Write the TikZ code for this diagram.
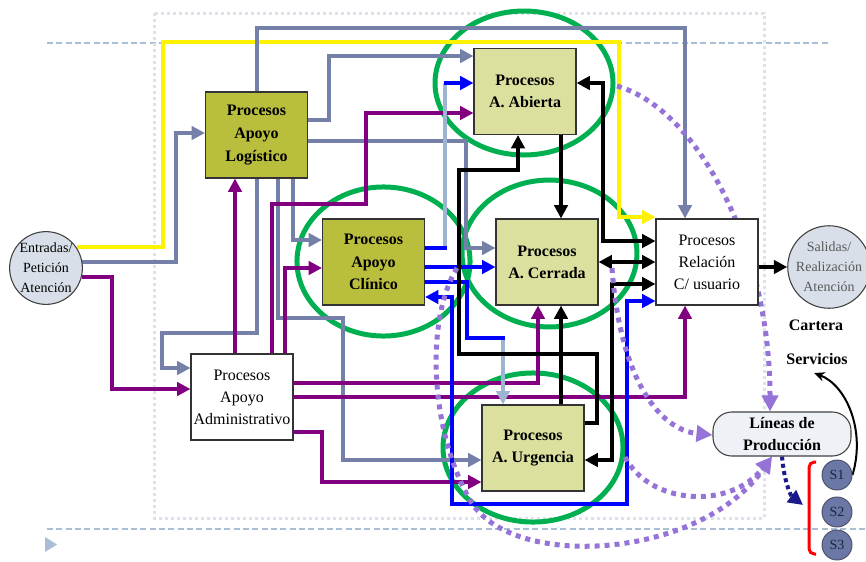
\documentclass[tikz,border=0pt]{standalone}
\usepackage{fontspec}
\setmainfont{Liberation Serif}
\usetikzlibrary{arrows.meta,backgrounds}

\definecolor{olivebox}{HTML}{B9BE3C}
\definecolor{palebox}{HTML}{DCE09E}
\definecolor{slate}{HTML}{7480A8}
\definecolor{plum}{HTML}{800080}
\definecolor{steel}{HTML}{9DB5D2}
\definecolor{ringgreen}{HTML}{00B050}
\definecolor{lavender}{HTML}{9673D6}
\definecolor{bubble}{HTML}{D8DFE8}
\definecolor{pillfill}{HTML}{EEF2F7}
\definecolor{svcfill}{HTML}{6B77A5}
\definecolor{svctext}{HTML}{1E2240}
\definecolor{navyline}{HTML}{1A1A8C}
\definecolor{framegrey}{HTML}{DCE3EB}
\definecolor{guide}{HTML}{A9BFD8}

\tikzset{
  proc/.style={draw=black!80, line width=0.8pt, minimum width=76.5pt,
    minimum height=64.5pt, align=center, inner sep=1pt,
    font=\fontsize{12}{16.5}\selectfont},
  procdark/.style={proc, fill=olivebox, font=\fontsize{12}{17}\selectfont\bfseries},
  proclight/.style={proc, fill=palebox, font=\fontsize{12}{16.5}\selectfont\bfseries},
  procwhite/.style={proc, fill=white},
  port/.style={circle, draw=black!75, line width=0.8pt, fill=bubble,
    minimum size=54pt, inner sep=0pt, align=center,
    font=\fontsize{10.5}{15}\selectfont},
  pillbox/.style={rectangle, rounded corners=14pt, draw=black!75, line width=0.8pt,
    fill=pillfill, minimum width=103.5pt, minimum height=33pt, align=center,
    font=\fontsize{12}{16.5}\selectfont\bfseries},
  svcball/.style={circle, draw=svctext!80, line width=0.7pt, fill=svcfill,
    minimum size=22.5pt, inner sep=0pt, text=svctext,
    font=\fontsize{10.5}{12}\selectfont},
  tag/.style={font=\fontsize{12}{14}\selectfont\bfseries, inner sep=1pt},
  wire/.style={line width=3pt, -{Triangle[length=10pt,width=10pt]}},
  wireboth/.style={line width=3pt, {Triangle[length=10pt,width=10pt]}-{Triangle[length=10pt,width=10pt]}},
  bare/.style={line width=3pt},
  flow/.style={lavender, line width=3.75pt, dash pattern=on 3.75pt off 3.75pt,
    -{Triangle[length=12pt,width=12pt]}},
  ring/.style={ringgreen, line width=3.75pt}
}

\begin{document}
\begin{tikzpicture}[x=0.75pt, y=-0.75pt]
\useasboundingbox (0,0) rectangle (866,561);

% process boxes
\node[procdark]  (log) at (256.5,135) {Procesos\\Apoyo\\Logístico};
\node[proclight] (ab)  at (525,91.5)  {Procesos\\A. Abierta};
\node[procdark]  (cl)  at (373.5,262) {Procesos\\Apoyo\\Clínico};
\node[proclight] (ce)  at (547,262)   {Procesos\\A. Cerrada};
\node[procwhite] (rel) at (707,262)   {Procesos\\Relación\\C/ usuario};
\node[procwhite] (adm) at (242,397)   {Procesos\\Apoyo\\Administrativo};
\node[proclight] (ur)  at (533,448)   {Procesos\\A. Urgencia};

% inputs and outputs
\node[port] (ent) at (46,268) {Entradas/\\Petición\\Atención};
\node[port, text=black!65] (sal) at (829,267) {Salidas/\\Realización\\Atención};
\node[pillbox] (lin) at (782,434) {Líneas de\\Producción};
\node[svcball] (s1) at (837,475) {S1};
\node[svcball] (s2) at (837,512) {S2};
\node[svcball] (s3) at (837,545) {S3};
\node[tag] (cart) at (816,325) {Cartera};
\node[tag] (serv) at (817,359) {Servicios};
\coordinate (servtip) at (814,373);

\begin{scope}[on background layer]
  % guide lines and frame
  \draw[guide, line width=0.9pt, dash pattern=on 4.5pt off 2.5pt] (47,43) -- (830,43);
  \draw[guide, line width=0.9pt, dash pattern=on 4.5pt off 2.5pt] (47,529) -- (866,529);
  \fill[guide] (45,537) -- (57,544.5) -- (45,552) -- cycle;
  \draw[framegrey, line width=2.25pt, dash pattern=on 2.25pt off 2.25pt] (154,13) rectangle (764,518);

  % green rings
  \draw[ring] (524,83) ellipse [x radius=66.75pt, y radius=54pt];
  \draw[ring] (383.5,261.5) ellipse [x radius=64.9pt, y radius=55.9pt];
  \draw[ring] (549.5,253.5) ellipse [x radius=65.6pt, y radius=55.1pt];
  \draw[ring] (533,447.5) ellipse [x radius=67.5pt, y radius=55.9pt];

  % yellow
  \draw[wire, yellow] (ent.34) -| (163,42) -| (619,217) -- (rel.west |- 0,217);

  % slate
  \draw[wire, slate] (ent.10) -| (176,133) -- (log.west |- 0,133);
  \draw[wire, slate] (log.north) |- (685,28) -- (rel.north -| 685,0);
  \draw[wire, slate] (log.east |- 0,120) -| (329,56) -- (ab.west |- 0,56);
  \draw[wire, slate] (log.east |- 0,141) -| (466,248) -- (ce.west |- 0,248);
  \draw[wire, slate] (log.south -| 293,0) |- (cl.west |- 0,240);
  \draw[wire, slate] (log.south -| 278,0) |- (343,318) |- (ur.west |- 0,460);
  \draw[wire, slate] (log.south) |- (162,333) |- (adm.west |- 0,368);

  % purple
  \draw[wire, plum] (ent.-14) -| (112,389) -- (adm.west |- 0,389);
  \draw[wire, plum] (adm.north -| 235,0) -- (log.south -| 235,0);
  \draw[wire, plum] (adm.north -| 272,0) |- (366,204) |- (ab.west |- 0,113);
  \draw[wire, plum] (adm.north -| 285,0) |- (cl.west |- 0,268);
  \draw[wire, plum] (adm.east |- 0,383) -| (ce.south -| 538,0);
  \draw[wire, plum] (adm.east |- 0,397) -| (rel.south -| 685,0);
  \draw[wire, plum] (adm.east |- 0,432) -| (322,482) -- (ur.west |- 0,482);

  % blue and steel
  \draw[bare, steel] (445,248) -- (445,83);
  \draw[wire, steel] (503,338) -- (ur.north -| 503,0);
  \draw[bare, blue] (cl.east |- 0,248) -- (446.5,248);
  \draw[wire, blue] (443.5,83) -- (ab.west |- 0,83);
  \draw[wire, blue] (cl.east |- 0,267) -- (ce.west |- 0,267);
  \draw[bare, blue] (cl.east |- 0,282) -| (467,338) -- (504.5,338);
  \draw[wireboth, blue] (cl.east |- 0,297) -| (452,504) -| (627,301) -- (rel.west |- 0,301);

  % black
  \draw[wire] (ab.south -| 561,0) -- (ce.north -| 561,0);
  \draw[wireboth] (ab.east |- 0,83) -| (603,241) -- (rel.west |- 0,241);
  \draw[wireboth] (ce.east) -- (rel.west);
  \draw[wireboth] (rel.west |- 0,284) -| (612,460) -- (ur.east |- 0,460);
  \draw[wire] (ur.east |- 0,423) -| (597,354) -| (459,170) -| (ab.south -| 518,0);
  \draw[wire] (ur.north -| 561,0) -- (ce.south -| 561,0);
  \draw[wire] (rel.east |- sal.west) -- (sal.west);

  % production lines
  \draw[flow] (617,86) .. controls (700,110) and (770,250) .. (lin.north -| 770,0);
  \draw[flow] (612,268) .. controls (620,380) and (660,430) .. (lin.west |- 0,435);
  \draw[flow] (625,457) .. controls (650,505) and (730,510) .. (lin.south -| 772,0);
  \draw[flow] (457,268) .. controls (425,320) and (430,430) .. (470,500)
              .. controls (510,571) and (700,560) .. (lin.south -| 772,0);
  \draw[navyline, line width=3pt, dash pattern=on 3pt off 2.5pt,
        -{Triangle[length=11pt,width=11pt]}]
        (lin.south -| 782,0) .. controls (784,480) and (790,495) .. (803,505);

  % service portfolio
  \draw[red, line width=2.25pt, rounded corners=4pt] (816,462) -- (809,462) -- (809,554) -- (816,554);
  \draw[black, line width=1.5pt, -{Stealth[length=8pt,width=7pt]}]
        (s1.east) .. controls (866,430) and (846,385) .. (servtip);
\end{scope}
\end{tikzpicture}
\end{document}
